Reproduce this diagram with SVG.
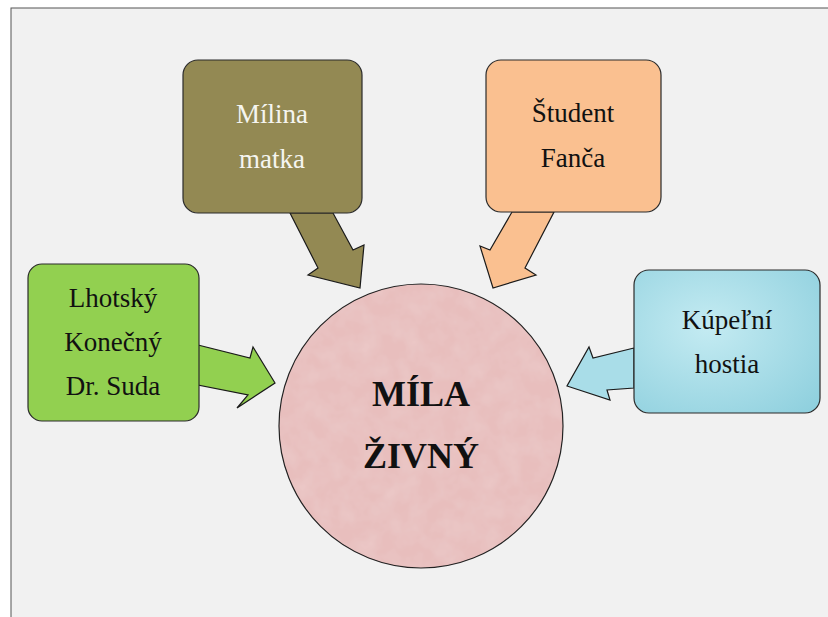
<svg xmlns="http://www.w3.org/2000/svg" width="828" height="617" viewBox="0 0 828 617">
<style>
.box{stroke:#2b2b2b;stroke-width:1.2}
.arr{stroke:#1a1a1a;stroke-width:1.2;stroke-linejoin:miter}
.t{font-family:"Palatino Linotype","Book Antiqua","Liberation Serif","DejaVu Serif",serif;font-size:27px;text-anchor:middle}
.big{font-family:"Palatino Linotype","Book Antiqua","Liberation Serif","DejaVu Serif",serif;font-size:36px;font-weight:bold;text-anchor:middle;fill:#111}
</style>
<defs>
<filter id="tex" x="0" y="0" width="100%" height="100%">
<feTurbulence type="fractalNoise" baseFrequency="0.05" numOctaves="3" seed="3" result="n"/>
<feColorMatrix in="n" type="matrix" values="0 0 0 0 1  0 0 0 0 1  0 0 0 0 1  0 0 0 0.35 -0.1" result="w"/>
<feComposite in="w" in2="SourceGraphic" operator="atop"/>
</filter>
<radialGradient id="water" cx="0.4" cy="0.4" r="0.8">
<stop offset="0" stop-color="#c4ebf2"/>
<stop offset="1" stop-color="#8fd0de"/>
</radialGradient>
</defs>
<rect x="0" y="0" width="828" height="617" fill="#ffffff"/>
<rect x="11" y="8" width="830" height="620" fill="#f1f1f1" stroke="#555" stroke-width="1"/>

<g id="connectors">
<polygon class="arr" fill="#938953" points="290,213 318,268 308,275 360,288 364,245 353,250 333,213"/>
<polygon class="arr" fill="#fac090" points="512,212 490,250 480,246 493,288 536,275 525,268 554,212"/>
<polygon class="arr" fill="#92d050" points="198,345 250,358 253,347 275,383 237,408 248,395 198,385"/>
<polygon class="arr" fill="#a9dde8" points="634,348 593,358 589,347 567,386 610,400 607,390 634,388"/>
</g>

<g id="center">
<circle cx="421" cy="426" r="142" fill="#e8bebd" stroke="#222" stroke-width="1.2"/>
<circle cx="421" cy="426" r="141" fill="#e8bebd" filter="url(#tex)" opacity="0.6"/>
<text class="big" x="421" y="406">MÍLA</text>
<text class="big" x="421" y="468">ŽIVNÝ</text>
</g>

<g id="milina">
<rect class="box" x="183" y="60" width="179" height="153" rx="15" fill="#938953"/>
<text class="t" x="272" y="123" fill="#f5f5f0">Mílina</text>
<text class="t" x="272" y="168" fill="#f5f5f0">matka</text>
</g>

<g id="student">
<rect class="box" x="486" y="60" width="175" height="152" rx="15" fill="#fac090"/>
<text class="t" x="573" y="122" fill="#111">Študent</text>
<text class="t" x="573" y="167" fill="#111">Fanča</text>
</g>

<g id="lhotsky">
<rect class="box" x="28" y="264" width="171" height="157" rx="14" fill="#92d050"/>
<text class="t" x="113" y="307" fill="#111">Lhotský</text>
<text class="t" x="113" y="351" fill="#111">Konečný</text>
<text class="t" x="113" y="395" fill="#111">Dr. Suda</text>
</g>

<g id="kupelni">
<rect class="box" x="634" y="270" width="186" height="143" rx="15" fill="url(#water)"/>
<text class="t" x="727" y="329" fill="#111">Kúpeľní</text>
<text class="t" x="727" y="373" fill="#111">hostia</text>
</g>
</svg>
